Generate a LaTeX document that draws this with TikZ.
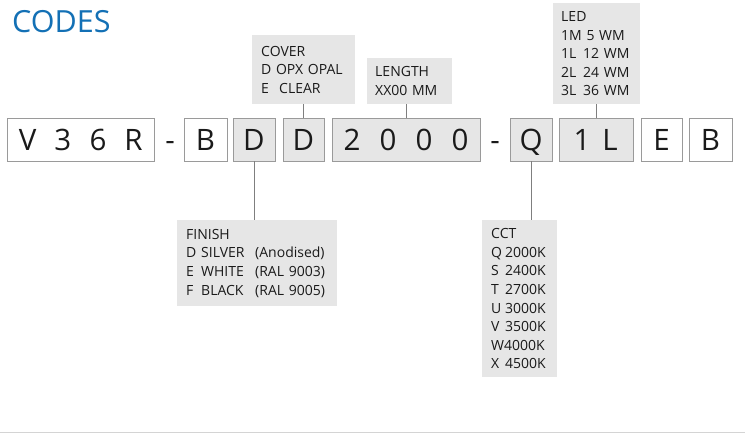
\documentclass[tikz,border=0pt]{standalone}
\usepackage{fontspec}
\setmainfont{Open Sans}
\definecolor{codesblue}{HTML}{1370B5}
\definecolor{boxfill}{HTML}{E6E6E6}
\definecolor{boxline}{HTML}{9A9A9A}
\definecolor{connline}{HTML}{7F7F7F}
\definecolor{txt}{HTML}{1A1A1A}
\definecolor{rule}{HTML}{D4D4D4}
\newcommand\cc[2]{\makebox[#1]{#2}}
\begin{document}
\begin{tikzpicture}[x=1pt,y=-1pt,
  codebox/.style={draw=boxline,line width=0.8pt,fill=white,inner sep=0pt,
    minimum height=43pt,text height=21pt,text depth=0pt,
    font=\fontsize{29.5}{30}\selectfont,text=txt},
  shaded/.style={codebox,fill=boxfill},
  dashsym/.style={inner sep=0pt,text height=21pt,text depth=0pt,
    font=\fontsize{29.5}{30}\selectfont,text=txt},
  labelbox/.style={fill=boxfill,anchor=north west,inner ysep=0pt,
    align=left,font=\fontsize{14}{18.6}\selectfont,text=txt},
  conn/.style={draw=connline,line width=0.9pt}]
\useasboundingbox (0,0) rectangle (745,434);
% title
\node[anchor=base west,inner sep=0pt,text=codesblue,font=\fontsize{30.5}{32}\selectfont] (title) at (12,32) {CODES};
% code boxes
\node[codebox,minimum width=147pt] (v36r) at (80.5,139.5) {\cc{35.3pt}{V}\cc{35.3pt}{3}\cc{35.3pt}{6}\cc{35.3pt}{R}};
\node[dashsym] (dash1) at (170,139.5) {-};
\node[codebox,minimum width=43pt] (b1) at (205.5,139.5) {B};
\node[shaded,minimum width=42pt] (d1) at (254,139.5) {D};
\node[shaded,minimum width=41pt] (d2) at (303.5,139.5) {D};
\node[shaded,minimum width=148pt] (len) at (406,139.5) {\cc{36pt}{2}\cc{36pt}{0}\cc{36pt}{0}\cc{36pt}{0}};
\node[dashsym] (dash2) at (495,139.5) {-};
\node[shaded,minimum width=42pt] (q) at (531,139.5) {Q};
\node[shaded,minimum width=74pt] (led) at (596,139.5) {\cc{28pt}{1}\cc{28pt}{L}};
\node[codebox,minimum width=41pt] (e) at (661.5,139.5) {E};
\node[codebox,minimum width=43pt] (b2) at (710.5,139.5) {B};
% label boxes
\node[labelbox,inner xsep=9pt,text width=85pt,minimum height=69pt] (cover) at (252,35)
  {COVER\\D OPX OPAL\\\makebox[18pt][l]{E}CLEAR};
\node[labelbox,inner xsep=8pt,text width=69pt,minimum height=46pt] (length) at (367,58)
  {LENGTH\\XX00 MM};
\node[labelbox,inner xsep=8pt,text width=71pt,minimum height=101pt] (ledbox) at (553,3)
  {LED\\1M 5 WM\\\makebox[22pt][l]{1L}12 WM\\\makebox[22pt][l]{2L}24 WM\\\makebox[22pt][l]{3L}36 WM};
\node[labelbox,inner xsep=9pt,text width=142pt,minimum height=86pt] (finish) at (177,220)
  {FINISH\\\makebox[15pt][l]{D}\makebox[54pt][l]{SILVER}(Anodised)\\\makebox[15pt][l]{E}\makebox[54pt][l]{WHITE}(RAL 9003)\\\makebox[15pt][l]{F}\makebox[54pt][l]{BLACK}(RAL 9005)};
\node[labelbox,inner xsep=9pt,text width=57pt,minimum height=157pt] (cct) at (482,220)
  {CCT\\\makebox[14pt][l]{Q}2000K\\\makebox[14pt][l]{S}2400K\\\makebox[14pt][l]{T}2700K\\\makebox[14pt][l]{U}3000K\\\makebox[14pt][l]{V}3500K\\W4000K\\\makebox[14pt][l]{X}4500K};
% connectors
\draw[conn] (d2.north) -- (d2.north |- cover.south);
\draw[conn] (len.north) -- (len.north |- length.south);
\draw[conn] (led.north) -- (led.north |- ledbox.south);
\draw[conn] (d1.south) -- (d1.south |- finish.north);
\draw[conn] (q.south) -- (q.south |- cct.north);
% bottom rule
\coordinate (rl) at (0,432.5);
\coordinate (rr) at (745,432.5);
\draw[draw=rule,line width=1.5pt] (rl) -- (rr);
\end{tikzpicture}
\end{document}
